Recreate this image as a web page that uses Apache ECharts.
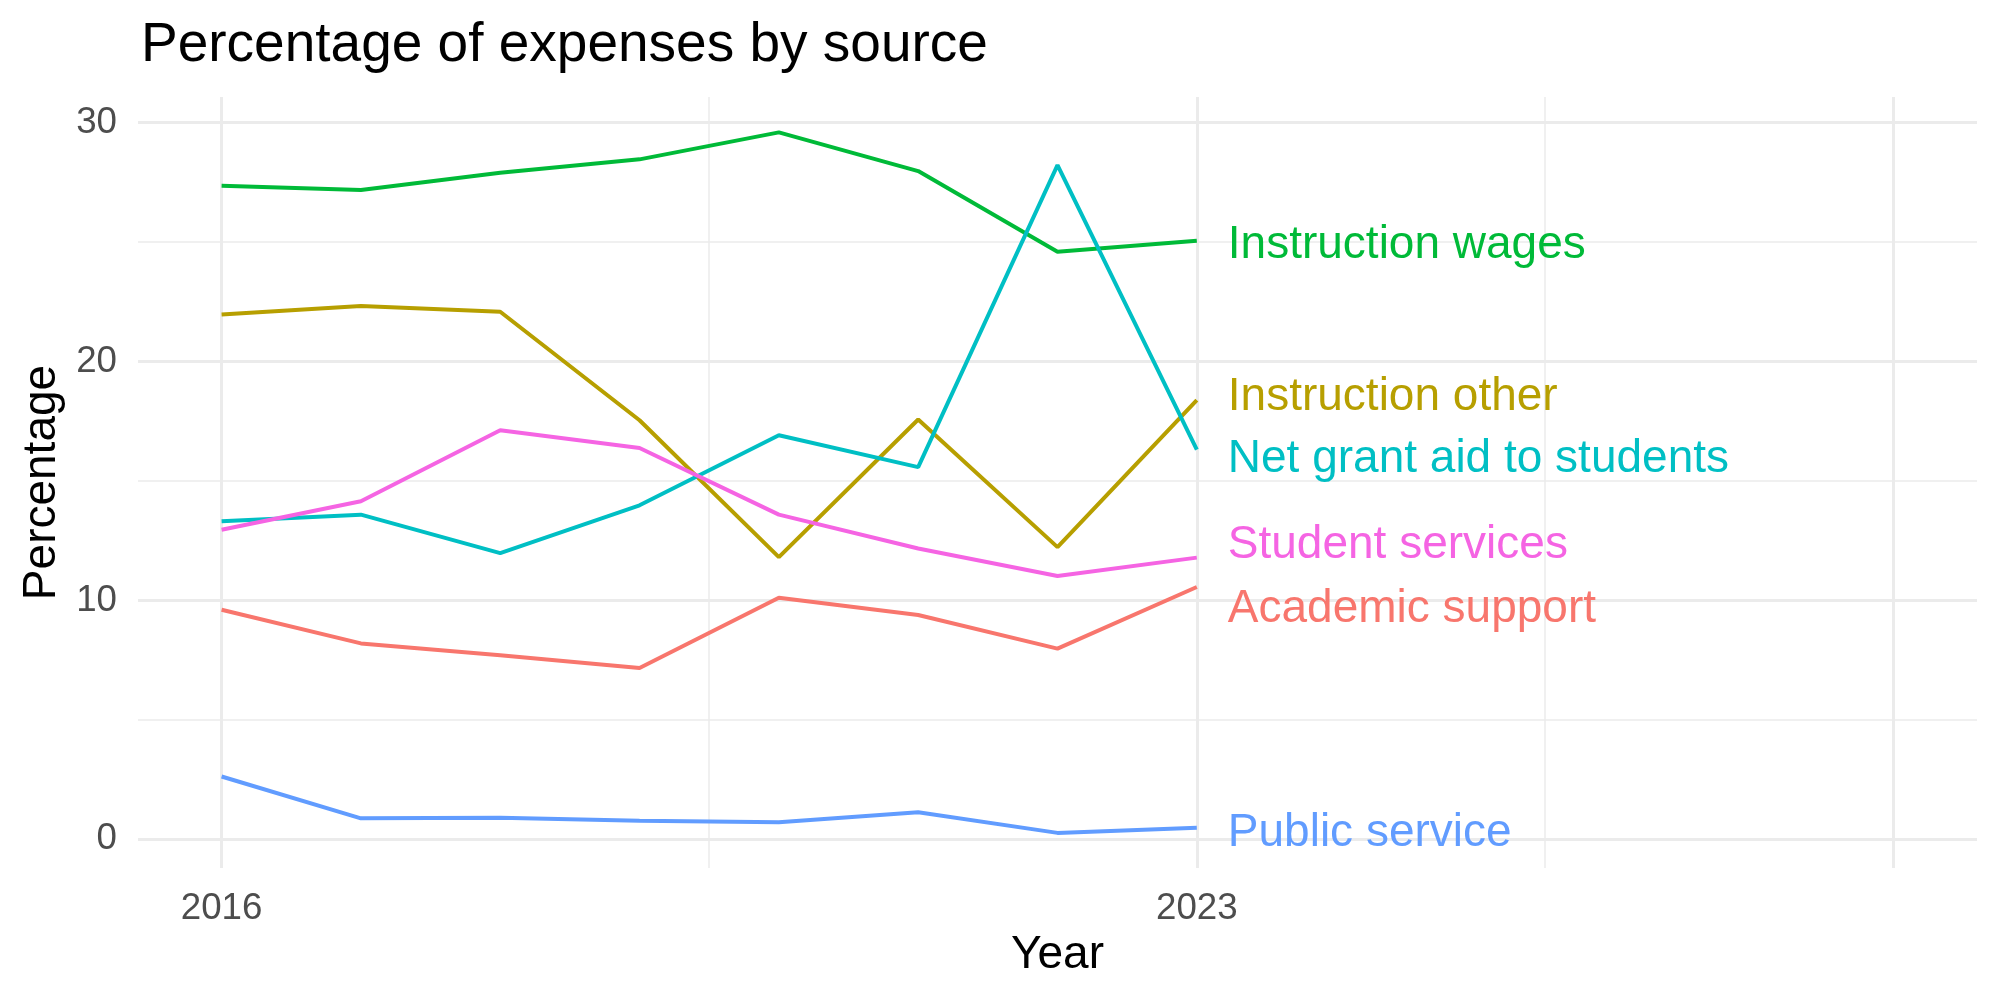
<!DOCTYPE html>
<html>
<head>
<meta charset="utf-8">
<script src="https://cdn.jsdelivr.net/npm/echarts@6/dist/echarts.min.js"></script>
<style>
    html, body { margin: 0; padding: 0; background: #fff; }
    #chart { width: 2000px; height: 1000px; }
</style>
</head>
<body>
<div id="chart"></div>
<script>
// data
const years = [2016, 2017, 2018, 2019, 2020, 2021, 2022, 2023];
const academicSupport = [9.61, 8.20, 7.70, 7.17, 10.11, 9.39, 7.98, 10.56];
const instructionOther = [21.97, 22.32, 22.08, 17.54, 11.81, 17.57, 12.23, 18.38];
const instructionWages = [27.36, 27.18, 27.90, 28.46, 29.59, 27.97, 24.59, 25.05];
const netGrantAid = [13.31, 13.59, 11.98, 13.98, 16.91, 15.58, 28.22, 16.31];
const publicService = [2.63, 0.88, 0.90, 0.78, 0.71, 1.13, 0.27, 0.48];
const studentServices = [12.96, 14.15, 17.12, 16.38, 13.59, 12.17, 11.02, 11.79];

const xLabels = [2016, 2023];
const yLabels = [0, 10, 20, 30];
const xMajor = [2016, 2023, 2028];
const xMinor = [2019.5, 2025.5];
const yMajor = [0, 10, 20, 30];
const yMinor = [5, 15, 25];

const font = 'Liberation Sans, Arial, Helvetica, sans-serif';

// name, values, colour, label nudge (px)
const groups = [
    ['Academic support', academicSupport, '#F8766D', 22],
    ['Instruction other', instructionOther, '#B79F00', -3],
    ['Instruction wages', instructionWages, '#00BA38', 4],
    ['Net grant aid to students', netGrantAid, '#00BFC4', 10],
    ['Public service', publicService, '#619CFF', 5],
    ['Student services', studentServices, '#F564E3', -12]
];

function pairs(vals) {
    return years.map(function (y, i) { return [y, vals[i]]; });
}

// background grid as mark lines under the data
let grid = [];
xMajor.forEach(function (v) { grid.push({xAxis: v, lineStyle: {width: 3}}); });
xMinor.forEach(function (v) { grid.push({xAxis: v, lineStyle: {width: 1.5}}); });
yMajor.forEach(function (v) { grid.push({yAxis: v, lineStyle: {width: 3}}); });
yMinor.forEach(function (v) { grid.push({yAxis: v, lineStyle: {width: 1.5}}); });

let series = [{
    type: 'line',
    z: 1,
    data: [],
    silent: true,
    markLine: {
        z: 1,
        silent: true,
        symbol: 'none',
        animation: false,
        label: {show: false},
        emphasis: {disabled: true},
        lineStyle: {color: '#EBEBEB', type: 'solid'},
        data: grid
    }
}];

groups.forEach(function (g) {
    series.push({
        name: g[0],
        type: 'line',
        z: 3,
        data: pairs(g[1]),
        showSymbol: false,
        symbol: 'none',
        lineStyle: {color: g[2], width: 4},
        itemStyle: {color: g[2]},
        endLabel: {
            show: true,
            formatter: g[0],
            color: g[2],
            fontFamily: font,
            fontSize: 46,
            distance: 31,
            offset: [0, g[3]]
        }
    });
});

let chart = echarts.init(document.getElementById('chart'));
chart.setOption({
    animation: false,
    backgroundColor: '#fff',
    title: {
        text: 'Percentage of expenses by source',
        left: 136,
        top: 13,
        textStyle: {fontFamily: font, fontSize: 55, fontWeight: 'normal', color: '#000'}
    },
    grid: {left: 138, right: 23, top: 97, bottom: 132, containLabel: false},
    xAxis: {
        type: 'value',
        min: 2015.4,
        max: 2028.6,
        name: 'Year',
        nameLocation: 'middle',
        nameGap: 61,
        nameTextStyle: {fontFamily: font, fontSize: 46, color: '#000'},
        axisLine: {show: false},
        axisTick: {show: false},
        splitLine: {show: false},
        axisLabel: {
            customValues: xLabels,
            formatter: function (v) { return String(v); },
            fontFamily: font, fontSize: 36.7, color: '#4D4D4D', margin: 22
        }
    },
    yAxis: {
        type: 'value',
        min: -1.2,
        max: 31.07,
        name: 'Percentage',
        nameLocation: 'middle',
        nameGap: 68,
        nameRotate: 90,
        nameTextStyle: {fontFamily: font, fontSize: 46, color: '#000'},
        axisLine: {show: false},
        axisTick: {show: false},
        splitLine: {show: false},
        axisLabel: {
            customValues: yLabels,
            padding: [5, 0, 0, 0],
            fontFamily: font, fontSize: 36.7, color: '#4D4D4D', margin: 21
        }
    },
    series: series
});
</script>
</body>
</html>
